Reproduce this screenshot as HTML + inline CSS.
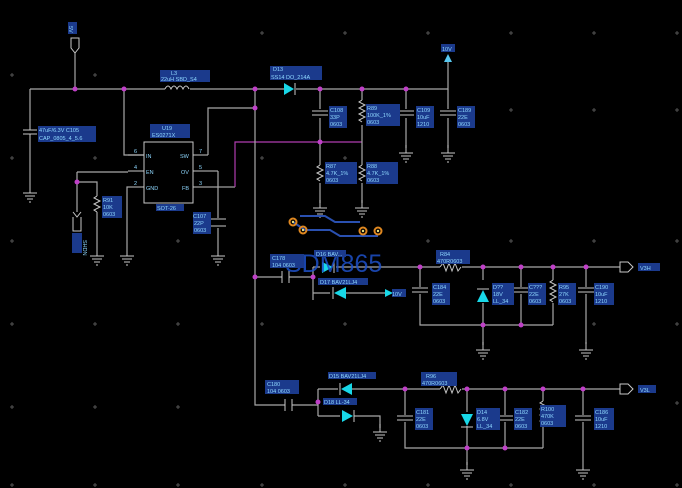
<!DOCTYPE html>
<html><head><meta charset="utf-8"><style>
html,body{margin:0;padding:0;background:#000;}
svg{display:block;}
text{font-family:"Liberation Sans",sans-serif;font-size:5.5px;fill:#8fd8ff;}
.w{stroke:#a8a8a8;stroke-width:1.2;fill:none;}
.m{stroke:#b03cb0;stroke-width:1.2;fill:none;}
.g{stroke:#c8c8c8;stroke-width:1;fill:none;}
.lb{fill:#1b3a8c;}
.j{fill:#c040c8;}
.d{fill:#18d8e8;}
</style></head><body>
<svg width="682" height="488" viewBox="0 0 682 488" xmlns="http://www.w3.org/2000/svg">
<defs>
<g id="gnd"><path class="g" d="M0 0v8M-7 8h14M-5 11h10M-3 14h6M-1 17h2"/></g>
<g id="capv"><path class="g" d="M-8 -2h16M-8 2h16"/></g>
<g id="gx"><path d="M-2 0h4M0 -2v4" stroke="#555" stroke-width="1"/></g>
</defs>
<!-- grid marks -->
<g>
<use href="#gx" x="12" y="75"/><use href="#gx" x="95" y="75"/><use href="#gx" x="262" y="33"/><use href="#gx" x="345" y="33"/><use href="#gx" x="428" y="33"/><use href="#gx" x="511" y="33"/><use href="#gx" x="594" y="33"/><use href="#gx" x="677" y="33"/>
<use href="#gx" x="12" y="158"/><use href="#gx" x="95" y="158"/><use href="#gx" x="262" y="158"/><use href="#gx" x="345" y="158"/><use href="#gx" x="511" y="110"/><use href="#gx" x="594" y="110"/><use href="#gx" x="677" y="110"/>
<use href="#gx" x="12" y="241"/><use href="#gx" x="178" y="241"/><use href="#gx" x="428" y="241"/><use href="#gx" x="511" y="241"/><use href="#gx" x="594" y="241"/><use href="#gx" x="677" y="241"/>
<use href="#gx" x="12" y="324"/><use href="#gx" x="95" y="324"/><use href="#gx" x="178" y="324"/><use href="#gx" x="262" y="324"/><use href="#gx" x="345" y="324"/><use href="#gx" x="677" y="324"/><use href="#gx" x="594" y="324"/>
<use href="#gx" x="12" y="407"/><use href="#gx" x="95" y="407"/><use href="#gx" x="178" y="407"/><use href="#gx" x="677" y="403"/>
<use href="#gx" x="12" y="485"/><use href="#gx" x="95" y="485"/><use href="#gx" x="178" y="485"/><use href="#gx" x="262" y="485"/><use href="#gx" x="345" y="485"/><use href="#gx" x="428" y="485"/><use href="#gx" x="511" y="485"/><use href="#gx" x="594" y="485"/><use href="#gx" x="677" y="485"/>
</g>
<!-- 5V connector -->
<rect class="lb" x="68" y="22" width="9" height="12"/><text x="70" y="31" transform="rotate(90 72 28)">5V</text>
<path class="g" d="M71 38h8v10l-4 5l-4-5z M75 53v36"/>
<!-- top rail -->
<path class="w" d="M30 89H165M190 89H285M296 89H448V62"/>
<path class="g" d="M165 89q3-6 6 0q3-6 6 0q3-6 6 0q3-6 6 0"/>
<rect class="lb" x="160" y="70" width="50" height="12"/><text x="171" y="75">L3</text><text x="161" y="81">22uH   SBD_S4</text>
<polygon class="d" points="284,83 284,95 294,89"/><path class="g" d="M295 83v12"/>
<rect class="lb" x="270" y="66" width="52" height="14"/><text x="273" y="71">D13</text><text x="271" y="79">SS14 DO_214A</text>
<polygon points="444,62 452,62 448,54" fill="#58c8f0"/><rect class="lb" x="441" y="44" width="14" height="8"/><text x="442" y="51">10V</text>
<!-- left cap -->
<path class="w" d="M30 89v41M30 134v51"/><path class="g" d="M23 130h14M23 134h14"/><use href="#gnd" x="30" y="185"/>
<rect class="lb" x="38" y="126" width="58" height="16"/><text x="39" y="132">47uF/6.3V C105</text><text x="39" y="140">CAP_0805_4_5.6</text>
<!-- IN -->
<path class="w" d="M124 89v66h20"/>
<!-- IC -->
<rect x="144" y="142" width="49" height="61" fill="none" stroke="#c8c8c8" stroke-width="1"/>
<rect class="lb" x="150" y="124" width="40" height="14"/><text x="162" y="130">U19</text><text x="152" y="137">ES0271X</text>
<rect class="lb" x="156" y="204" width="28" height="7"/><text x="157" y="210">SOT-26</text>
<text x="146" y="158">IN</text><text x="146" y="174">EN</text><text x="146" y="190">GND</text>
<text x="180" y="158">SW</text><text x="181" y="174">OV</text><text x="182" y="190">FB</text>
<text x="134" y="153">6</text><text x="134" y="169">4</text><text x="134" y="185">2</text>
<text x="199" y="153">7</text><text x="199" y="169">5</text><text x="199" y="185">3</text>
<path class="g" d="M128 155h16M128 171h16M128 187h16M193 155h15M193 171h25M193 187h42"/>
<!-- SW -->
<path class="w" d="M208 155V108H255"/>
<!-- EN / SHDN -->
<path class="w" d="M77 172h51M77 172v10v30M77 182h20v14M97 212v36M128 187h-1v61M218 171v47M218 228v20"/>
<path class="m" d="M235 187V142H362"/>
<path class="g" d="M73 212l4 5l4-5M73 217v14h8v-14"/><rect class="lb" x="72" y="233" width="10" height="20"/><text x="74" y="237" transform="rotate(90 77 243)">SHDN</text>
<path class="g" d="M97 196l-3 2l6 3l-6 3l6 3l-6 3l3 2"/>
<rect class="lb" x="102" y="196" width="20" height="22"/><text x="103" y="202">R91</text><text x="103" y="209">10K</text><text x="103" y="216">0603</text>
<use href="#gnd" x="97" y="248"/><use href="#gnd" x="127" y="248"/><use href="#gnd" x="218" y="248"/>
<path class="g" d="M210 219h16M210 226h16"/>
<rect class="lb" x="193" y="212" width="18" height="22"/><text x="193" y="218">C107</text><text x="194" y="225">22P</text><text x="194" y="232">0603</text>
<!-- output caps top -->
<path class="w" d="M320 89v20M320 118v24M320 142v23M320 183v20M362 89v11M362 125v17M362 142v23M362 183v20M406 89v20M406 118v30M448 89v20M448 118v30"/>
<use href="#capv" x="320" y="113"/><use href="#capv" x="406" y="113"/><use href="#capv" x="448" y="113"/>
<path class="g" d="M362 100l-3 2l6 3l-6 3l6 3l-6 3l6 3l-6 3l3 2M320 165l-3 2l6 3l-6 3l6 3l-6 3l3 2M362 165l-3 2l6 3l-6 3l6 3l-6 3l3 2"/>
<use href="#gnd" x="320" y="200"/><use href="#gnd" x="362" y="200"/><use href="#gnd" x="406" y="145"/><use href="#gnd" x="448" y="145"/>
<rect class="lb" x="329" y="106" width="18" height="22"/><text x="330" y="112">C108</text><text x="330" y="119">33P</text><text x="330" y="126">0603</text>
<rect class="lb" x="366" y="104" width="34" height="22"/><text x="367" y="110">R89</text><text x="367" y="117">100K_1%</text><text x="367" y="124">0603</text>
<rect class="lb" x="416" y="106" width="18" height="22"/><text x="417" y="112">C109</text><text x="417" y="119">10uF</text><text x="417" y="126">1210</text>
<rect class="lb" x="457" y="106" width="18" height="22"/><text x="458" y="112">C189</text><text x="458" y="119">22E</text><text x="458" y="126">0603</text>
<rect class="lb" x="325" y="162" width="32" height="22"/><text x="326" y="168">R87</text><text x="326" y="175">4.7K_1%</text><text x="326" y="182">0603</text>
<rect class="lb" x="366" y="162" width="32" height="22"/><text x="367" y="168">R88</text><text x="367" y="175">4.7K_1%</text><text x="367" y="182">0603</text>
<!-- vertical trunk -->
<path class="w" d="M255 89V405H285"/>
<!-- vias -->
<path d="M293 222L305 230H330l10 6H378" stroke="#2a50b0" stroke-width="2" fill="none"/>
<path d="M300 216H325l10 6H360" stroke="#2a50b0" stroke-width="2" fill="none"/>
<g fill="none" stroke="#e08820" stroke-width="2"><circle cx="293" cy="222" r="3.5"/><circle cx="303" cy="230" r="3.5"/><circle cx="363" cy="231" r="3.5"/><circle cx="378" cy="231" r="3.5"/></g>
<g fill="#e8e080"><circle cx="293" cy="222" r="1.2"/><circle cx="303" cy="230" r="1.2"/><circle cx="363" cy="231" r="1.2"/><circle cx="378" cy="231" r="1.2"/></g>
<!-- middle section -->
<path class="w" d="M255 277H282M289 277H313M313 267V300M313 267H320M336 267H440M462 267H620M313 293H330M346 293H385"/>
<path class="g" d="M282 271v12M289 271v12M440 267l3-4l3 8l3-8l3 8l3-8l3 8l3-4"/>
<polygon class="d" points="322,262 322,273 333,267"/><path class="g" d="M334 262v11"/>
<polygon class="d" points="346,287 346,299 334,293"/><path class="g" d="M333 287v12"/>
<polygon class="d" points="385,289 385,297 393,293"/>
<rect class="lb" x="392" y="289" width="14" height="8"/><text x="392" y="296">10V</text>
<text x="285" y="272" style="font-size:25px;fill:#1e50c8;opacity:.85">SDM865</text>
<rect class="lb" x="270" y="254" width="34" height="14"/><text x="272" y="260">C178</text><text x="272" y="267">104 0603</text>
<rect class="lb" x="314" y="250" width="32" height="7"/><text x="316" y="256">D16  BAV...</text>
<rect class="lb" x="318" y="278" width="50" height="7"/><text x="320" y="284">D17  BAV21LJ4</text>
<rect class="lb" x="436" y="250" width="34" height="14"/><text x="440" y="256">R84</text><text x="437" y="263">470R0603</text>
<path class="g" d="M620 262h8l5 5l-5 5h-8z"/><rect class="lb" x="638" y="263" width="22" height="8"/><text x="640" y="270">V3H</text>
<path class="w" d="M420 267v20M420 294v31H553M483 267v13M483 303v42M521 267v20M521 294v31M553 267v13M553 303v22M586 267v20M586 294v50"/>
<use href="#capv" x="420" y="290"/><use href="#capv" x="521" y="290"/><use href="#capv" x="586" y="290"/>
<polygon class="d" points="477,302 489,302 483,290"/><path class="g" d="M477 289h12"/>
<path class="g" d="M553 280l-3 2l6 3l-6 3l6 3l-6 3l6 3l-6 3l3 2"/>
<use href="#gnd" x="483" y="342"/><use href="#gnd" x="586" y="342"/>
<rect class="lb" x="432" y="283" width="18" height="22"/><text x="433" y="289">C184</text><text x="433" y="296">22E</text><text x="433" y="303">0603</text>
<rect class="lb" x="492" y="283" width="22" height="22"/><text x="493" y="289">D??</text><text x="493" y="296">18V</text><text x="493" y="303">LL_34</text>
<rect class="lb" x="528" y="283" width="18" height="22"/><text x="529" y="289">C???</text><text x="529" y="296">22E</text><text x="529" y="303">0603</text>
<rect class="lb" x="558" y="283" width="18" height="22"/><text x="559" y="289">R95</text><text x="559" y="296">27K</text><text x="559" y="303">0603</text>
<rect class="lb" x="594" y="283" width="20" height="22"/><text x="595" y="289">C190</text><text x="595" y="296">10uF</text><text x="595" y="303">1210</text>
<!-- bottom section -->
<path class="w" d="M292 405H318M318 389V416M318 389H338M352 389H440M462 389H620M318 416H340M354 416H380V428"/>
<path class="g" d="M285 399v12M292 399v12M440 389l3-4l3 8l3-8l3 8l3-8l3 8l3-4"/>
<polygon class="d" points="352,383 352,395 341,389"/><path class="g" d="M340 383v12"/>
<polygon class="d" points="342,410 342,422 353,416"/><path class="g" d="M354 410v12"/>
<use href="#gnd" x="380" y="424"/>
<rect class="lb" x="265" y="380" width="34" height="14"/><text x="267" y="386">C180</text><text x="267" y="393">104 0603</text>
<rect class="lb" x="328" y="372" width="48" height="7"/><text x="329" y="378">D15 BAV21LJ4</text>
<rect class="lb" x="323" y="398" width="34" height="7"/><text x="324" y="404">D18  LL-34</text>
<rect class="lb" x="421" y="372" width="36" height="14"/><text x="426" y="378">R96</text><text x="422" y="385">470R0603</text>
<path class="g" d="M620 384h8l5 5l-5 5h-8z"/><rect class="lb" x="638" y="385" width="18" height="8"/><text x="640" y="392">V3L</text>
<path class="w" d="M405 389v26M405 422v26H543M467 389v23M467 426v39M505 389v26M505 422v26M543 389v12M543 426v22M583 389v26M583 422v40"/>
<use href="#capv" x="405" y="418"/><use href="#capv" x="505" y="418"/><use href="#capv" x="583" y="418"/>
<polygon class="d" points="461,414 473,414 467,426"/><path class="g" d="M461 427h12"/>
<path class="g" d="M543 401l-3 2l6 3l-6 3l6 3l-6 3l6 3l-6 3l3 2"/>
<use href="#gnd" x="467" y="462"/><use href="#gnd" x="583" y="462"/>
<rect class="lb" x="415" y="408" width="18" height="22"/><text x="416" y="414">C181</text><text x="416" y="421">22E</text><text x="416" y="428">0603</text>
<rect class="lb" x="476" y="408" width="24" height="22"/><text x="477" y="414">D14</text><text x="477" y="421">6.8V</text><text x="477" y="428">LL_34</text>
<rect class="lb" x="514" y="408" width="18" height="22"/><text x="515" y="414">C182</text><text x="515" y="421">22E</text><text x="515" y="428">0603</text>
<rect class="lb" x="540" y="405" width="26" height="22"/><text x="541" y="411">R100</text><text x="541" y="418">470K</text><text x="541" y="425">0603</text>
<rect class="lb" x="594" y="408" width="20" height="22"/><text x="595" y="414">C186</text><text x="595" y="421">10uF</text><text x="595" y="428">1210</text>
<!-- junctions -->
<g class="j">
<circle cx="75" cy="89" r="2.5"/><circle cx="124" cy="89" r="2.5"/><circle cx="255" cy="89" r="2.5"/><circle cx="255" cy="108" r="2.5"/>
<circle cx="320" cy="89" r="2.5"/><circle cx="362" cy="89" r="2.5"/><circle cx="406" cy="89" r="2.5"/><circle cx="320" cy="142" r="2.5"/>
<circle cx="77" cy="182" r="2.5"/><circle cx="255" cy="277" r="2.5"/><circle cx="313" cy="277" r="2.5"/>
<circle cx="420" cy="267" r="2.5"/><circle cx="483" cy="267" r="2.5"/><circle cx="521" cy="267" r="2.5"/><circle cx="553" cy="267" r="2.5"/><circle cx="586" cy="267" r="2.5"/>
<circle cx="483" cy="325" r="2.5"/><circle cx="521" cy="325" r="2.5"/>
<circle cx="318" cy="402" r="2.5"/><circle cx="405" cy="389" r="2.5"/><circle cx="467" cy="389" r="2.5"/><circle cx="505" cy="389" r="2.5"/><circle cx="543" cy="389" r="2.5"/><circle cx="583" cy="389" r="2.5"/>
<circle cx="467" cy="448" r="2.5"/><circle cx="505" cy="448" r="2.5"/>
</g>
</svg>
</body></html>
